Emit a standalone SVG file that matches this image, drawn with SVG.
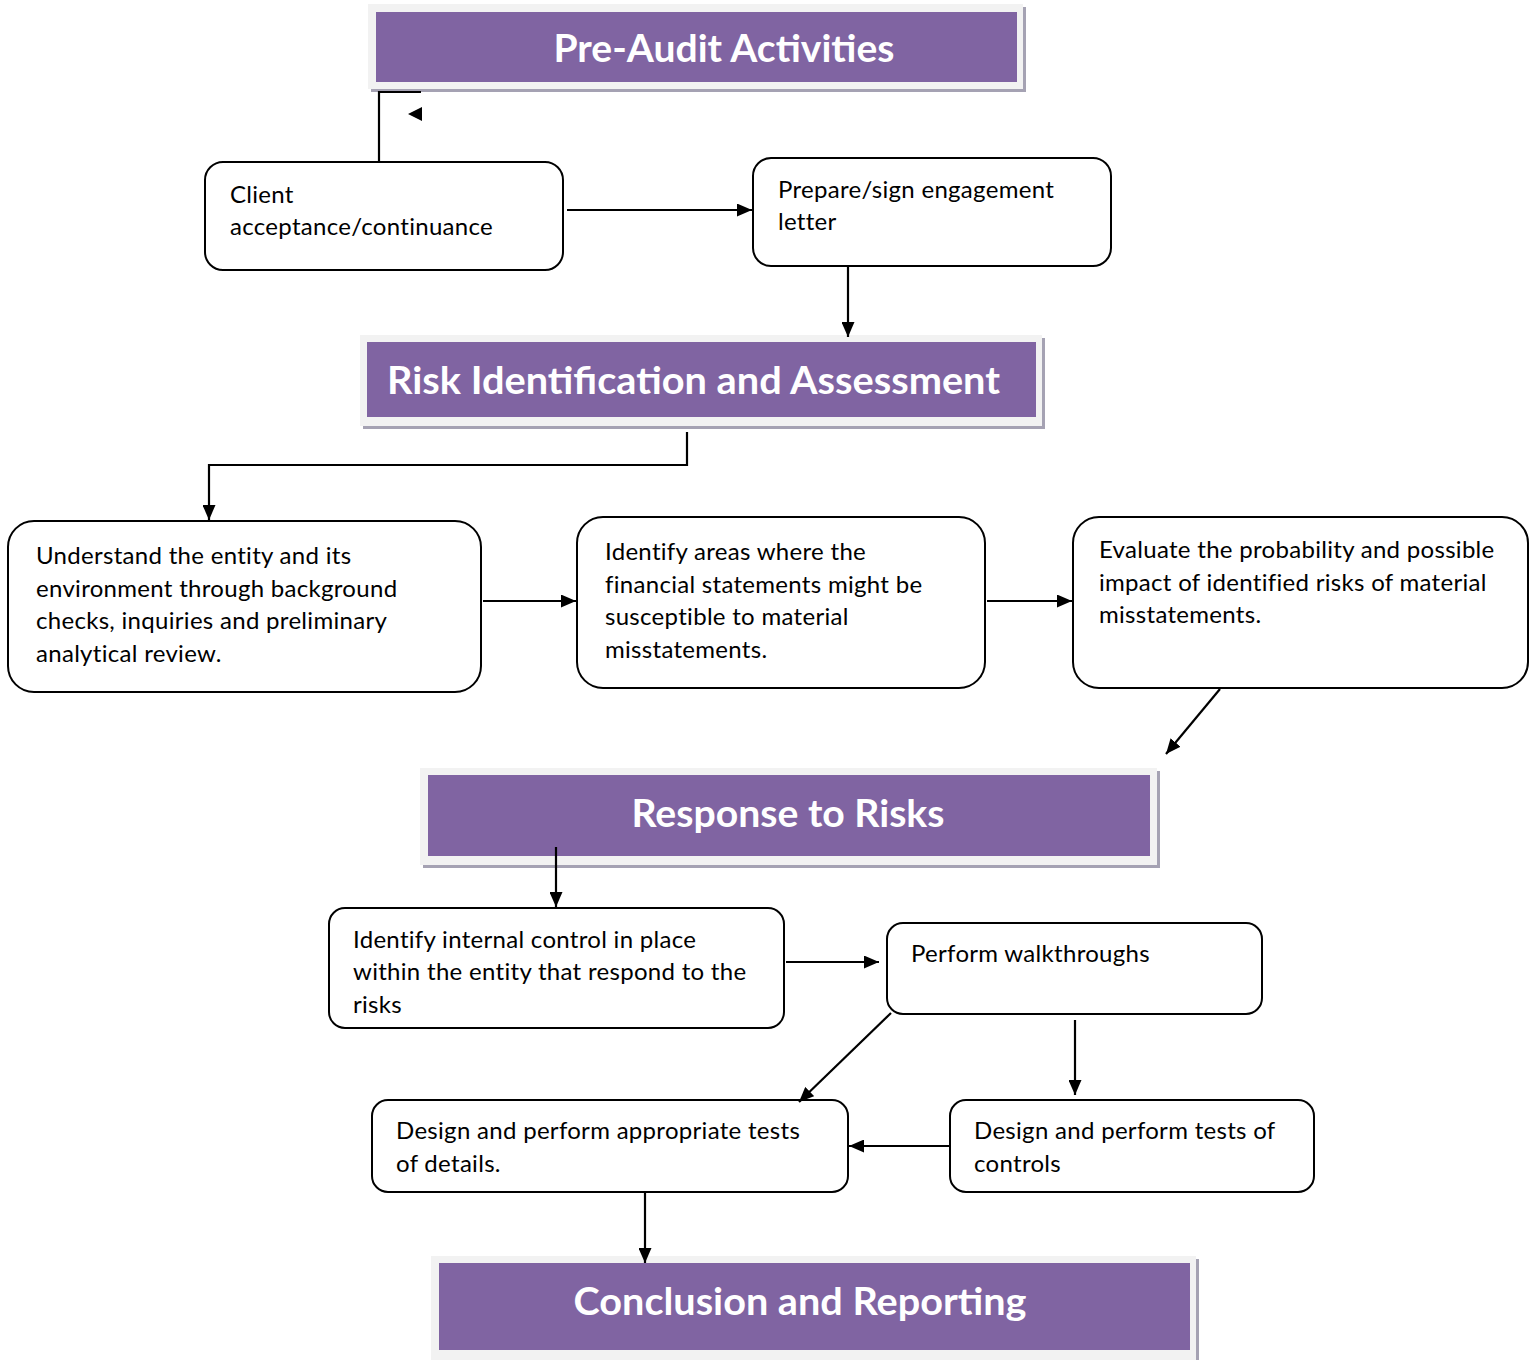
<svg xmlns="http://www.w3.org/2000/svg" width="1540" height="1360" viewBox="0 0 1540 1360">
<defs>
<marker id="ah" viewBox="0 0 15 13" refX="15" refY="6.5" markerWidth="15" markerHeight="13" markerUnits="userSpaceOnUse" orient="auto">
<path d="M0,0 L15,6.5 L0,13 z" fill="#000"/>
</marker>
</defs>
<style>
.frame{fill:#f2f2f2}
.shadow{fill:#a5a2b3}
.band{fill:#8064a2}
.htxt{font-family:Lato,"Open Sans","Liberation Sans",sans-serif;font-weight:bold;font-size:38px;fill:#fff}
.box{fill:#fff;stroke:#000;stroke-width:2}
.txt{font-family:Lato,"Open Sans","Liberation Sans",sans-serif;font-size:24px;letter-spacing:0.3px;fill:#000}
.con{fill:none;stroke:#000;stroke-width:2.2}
</style>
<rect width="1540" height="1360" fill="#fff"/>

<g id="pre-audit">
<rect class="shadow" x="371" y="7" width="655" height="85"/>
<rect class="frame" x="368" y="4" width="655" height="85"/>
<rect class="band" x="376" y="12" width="641" height="70"/>
<text class="htxt" x="724" y="62" text-anchor="middle" textLength="341" lengthAdjust="spacingAndGlyphs">Pre-Audit Activities</text>
</g>

<g id="client">
<rect class="box" x="205" y="162" width="358" height="108" rx="18"/>
<text class="txt" x="230" y="203">Client</text>
<text class="txt" x="230" y="235">acceptance/continuance</text>
</g>

<g id="engagement">
<rect class="box" x="753" y="158" width="358" height="108" rx="18"/>
<text class="txt" x="778" y="198">Prepare/sign engagement</text>
<text class="txt" x="778" y="230">letter</text>
</g>

<g id="risk-id">
<rect class="shadow" x="363" y="338" width="682" height="91"/>
<rect class="frame" x="360" y="335" width="682" height="91"/>
<rect class="band" x="367" y="342" width="669" height="75"/>
<text class="htxt" x="387" y="394" textLength="613" lengthAdjust="spacingAndGlyphs">Risk Identification and Assessment</text>
</g>

<g id="understand">
<rect class="box" x="8" y="521" width="473" height="171" rx="26"/>
<text class="txt" x="36" y="564">Understand the entity and its</text>
<text class="txt" x="36" y="597">environment through background</text>
<text class="txt" x="36" y="629">checks, inquiries and preliminary</text>
<text class="txt" x="36" y="662">analytical review.</text>
</g>

<g id="identify-areas">
<rect class="box" x="577" y="517" width="408" height="171" rx="26"/>
<text class="txt" x="605" y="560">Identify areas where the</text>
<text class="txt" x="605" y="593">financial statements might be</text>
<text class="txt" x="605" y="625">susceptible to material</text>
<text class="txt" x="605" y="658">misstatements.</text>
</g>

<g id="evaluate">
<rect class="box" x="1073" y="517" width="455" height="171" rx="26"/>
<text class="txt" x="1099" y="558">Evaluate the probability and possible</text>
<text class="txt" x="1099" y="591">impact of identified risks of material</text>
<text class="txt" x="1099" y="623">misstatements.</text>
</g>

<g id="response">
<rect class="shadow" x="423" y="771" width="737" height="97"/>
<rect class="frame" x="420" y="768" width="737" height="97"/>
<rect class="band" x="428" y="775" width="722" height="81"/>
<text class="htxt" x="788" y="827" text-anchor="middle" textLength="313" lengthAdjust="spacingAndGlyphs">Response to Risks</text>
</g>

<g id="internal-control">
<rect class="box" x="329" y="908" width="455" height="120" rx="16"/>
<text class="txt" x="353" y="948">Identify internal control in place</text>
<text class="txt" x="353" y="980">within the entity that respond to the</text>
<text class="txt" x="353" y="1013">risks</text>
</g>

<g id="walkthroughs">
<rect class="box" x="887" y="923" width="375" height="91" rx="16"/>
<text class="txt" x="911" y="962">Perform walkthroughs</text>
</g>

<g id="tests-details">
<rect class="box" x="372" y="1100" width="476" height="92" rx="16"/>
<text class="txt" x="396" y="1139">Design and perform appropriate tests</text>
<text class="txt" x="396" y="1172">of details.</text>
</g>

<g id="tests-controls">
<rect class="box" x="950" y="1100" width="364" height="92" rx="16"/>
<text class="txt" x="974" y="1139">Design and perform tests of</text>
<text class="txt" x="974" y="1172">controls</text>
</g>

<g id="conclusion">
<rect class="shadow" x="434" y="1259" width="765" height="104"/>
<rect class="frame" x="431" y="1256" width="765" height="104"/>
<rect class="band" x="439" y="1263" width="751" height="87"/>
<text class="htxt" x="800" y="1315" text-anchor="middle" textLength="453" lengthAdjust="spacingAndGlyphs">Conclusion and Reporting</text>
</g>

<g id="connectors">
<path class="con" d="M379,161 V92 H421"/>
<path d="M422,107 L408,114 L422,121 z" fill="#000"/>
<path class="con" d="M567,210 H752" marker-end="url(#ah)"/>
<path class="con" d="M848,266 V337" marker-end="url(#ah)"/>
<path class="con" d="M687,432 V465 H209 V520" marker-end="url(#ah)"/>
<path class="con" d="M483,601 H576" marker-end="url(#ah)"/>
<path class="con" d="M987,601 H1072" marker-end="url(#ah)"/>
<path class="con" d="M1220,689 L1166,754" marker-end="url(#ah)"/>
<path class="con" d="M556,847 V907" marker-end="url(#ah)"/>
<path class="con" d="M786,962 H879" marker-end="url(#ah)"/>
<path class="con" d="M891,1013 L799,1102" marker-end="url(#ah)"/>
<path class="con" d="M1075,1020 V1095" marker-end="url(#ah)"/>
<path class="con" d="M950,1146 H849" marker-end="url(#ah)"/>
<path class="con" d="M645,1193 V1263" marker-end="url(#ah)"/>
</g>
</svg>
